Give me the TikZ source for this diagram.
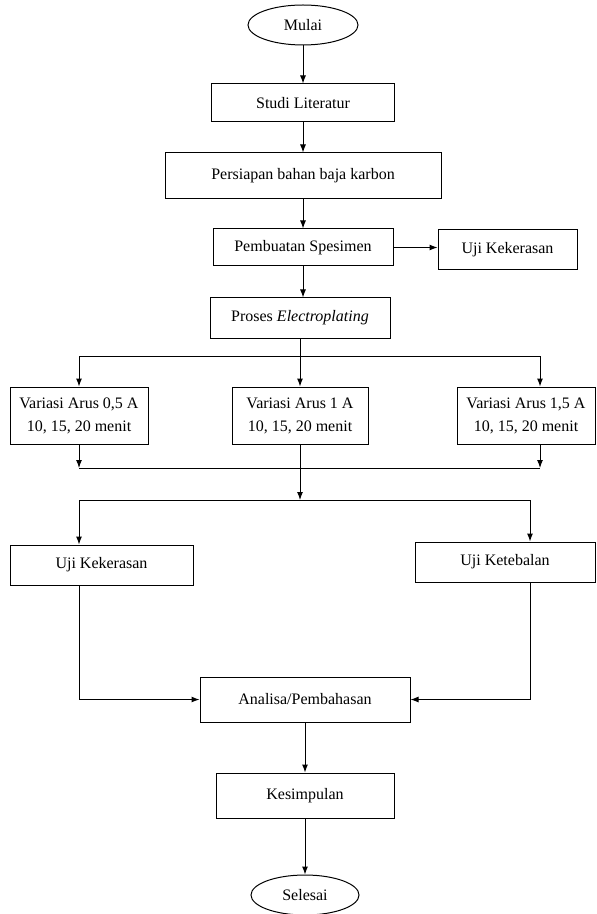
\documentclass[tikz,border=0pt]{standalone}
\usepackage{fontspec}
\setmainfont{Liberation Serif}
\usetikzlibrary{shapes.geometric,arrows.meta}

\tikzset{
  box/.style={draw, line width=0.5pt, inner sep=1pt, font=\fontsize{8}{11.5}\selectfont, align=center},
  term/.style={draw, ellipse, line width=0.5pt, inner sep=0pt, font=\fontsize{8}{11.5}\selectfont},
  arr/.style={line width=0.5pt, -{Latex[length=4pt,width=3pt]}},
  ln/.style={line width=0.5pt}
}

\begin{document}
\begin{tikzpicture}[x=0.5pt,y=-0.5pt]
      \useasboundingbox (0,0) rectangle (596,914);
      \node[term, minimum width=55pt, minimum height=20pt] (mulai) at (303,25) {Mulai};
      \node[box, minimum width=91.5pt, minimum height=19pt] (studi) at (303,103) {Studi Literatur};
      \node[box, minimum width=138pt, minimum height=23pt] (persiapan) at (303,176) {Persiapan bahan baja karbon};
      \node[box, minimum width=90pt, minimum height=18.5pt] (pembuatan) at (303,247.5) {Pembuatan Spesimen};
      \node[box, minimum width=69.5pt, minimum height=20pt] (ujikeras1) at (507.5,250) {Uji Kekerasan};
      \node[box, minimum width=90pt, minimum height=20pt] (proses) at (300,318) {Proses \textit{Electroplating}};
      \node[box, minimum width=69pt, minimum height=28.5pt] (var1) at (79,415.5) {Variasi Arus 0,5 A\\10, 15, 20 menit};
      \node[box, minimum width=68pt, minimum height=28.5pt] (var2) at (300,415.5) {Variasi Arus 1 A\\10, 15, 20 menit};
      \node[box, minimum width=69pt, minimum height=28.5pt] (var3) at (526,415.5) {Variasi Arus 1,5 A\\10, 15, 20 menit};
      \node[box, minimum width=91.5pt, minimum height=20pt] (ujikeras2) at (101.5,565) {Uji Kekerasan};
      \node[box, minimum width=90pt, minimum height=20pt] (ujitebal) at (505,562) {Uji Ketebalan};
      \node[box, minimum width=105pt, minimum height=22.5pt] (analisa) at (305,699.5) {Analisa/Pembahasan};
      \node[box, minimum width=89pt, minimum height=22.5pt] (kesimpulan) at (305,795.5) {Kesimpulan};
      \node[term, minimum width=54pt, minimum height=20pt] (selesai) at (305,895) {Selesai};
      \coordinate (split1) at (300,356);
      \coordinate (join1) at (300,468);
      \coordinate (split2) at (300,500);
      \draw[arr] (mulai) -- (studi);
      \draw[arr] (studi) -- (persiapan);
      \draw[arr] (persiapan) -- (pembuatan);
      \draw[arr] (pembuatan) -- (ujikeras1.west |- pembuatan);
      \draw[arr] (pembuatan) -- (pembuatan |- proses.north);
      \draw[arr] (proses) -- (var2);
      \draw[arr] (split1) -| (var1.north);
      \draw[arr] (split1) -| ([xshift=7pt]var3.north);
      \draw[arr] (var1.south) -- (var1.south |- join1);
      \draw[arr] ([xshift=7pt]var3.south) -- ([xshift=7pt]var3.south |- join1);
      \draw[ln] (var1.south |- join1) -- ([xshift=7pt]var3.south |- join1);
      \draw[arr] (var2.south) -- (split2);
      \draw[arr] (split2) -| (ujikeras2.north -| var1.south);
      \draw[arr] (split2) -| ([xshift=12.5pt]ujitebal.north);
      \draw[arr] (ujikeras2.south -| var1.south) |- (analisa.west);
      \draw[arr] ([xshift=12.5pt]ujitebal.south) |- (analisa.east);
      \draw[arr] (analisa) -- (kesimpulan);
      \draw[arr] (kesimpulan) -- (selesai);
\end{tikzpicture}
\end{document}
